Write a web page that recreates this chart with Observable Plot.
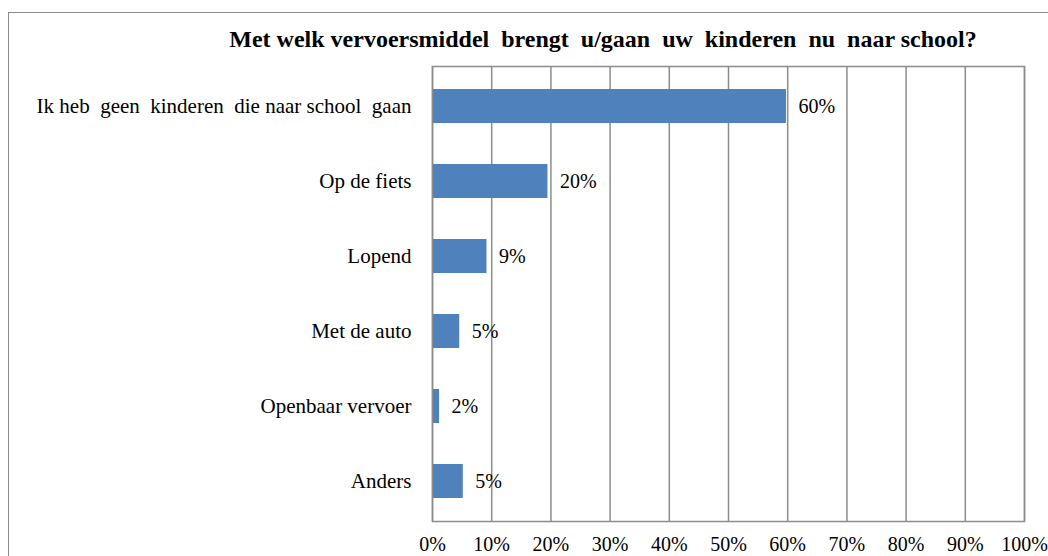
<!DOCTYPE html>
<html>
<head>
<meta charset="utf-8">
<script src="https://cdn.jsdelivr.net/npm/d3@7"></script>
<script src="https://cdn.jsdelivr.net/npm/@observablehq/plot@0.6"></script>
<style>
  html, body { margin: 0; padding: 0; background: #fff; overflow: hidden; }
  #wrap { position: relative; width: 1048px; height: 556px; overflow: hidden; }
  #border { position: absolute; left: 8px; top: 12px; width: 1100px; height: 600px; border: 1.5px solid #8a8a8a; box-sizing: border-box; }
  #title { position: absolute; left: 0; top: 26px; width: 1206px; text-align: center; font-family: "Liberation Serif", serif; font-weight: bold; font-size: 24px; color: #000; white-space: pre; }
  #chart { position: absolute; left: 0; top: 0; }
  #chart svg text { font-family: "Liberation Serif", serif; }
</style>
</head>
<body>
<div id="wrap">
  <div id="border"></div>
  <div id="chart"></div>
  <div id="title">Met welk vervoersmiddel  brengt  u/gaan  uw  kinderen  nu  naar school?</div>
</div>
<script>
const categories = [
  "Ik heb  geen  kinderen  die naar school  gaan",
  "Op de fiets",
  "Lopend",
  "Met de auto",
  "Openbaar vervoer",
  "Anders"
];
const values = [59.8, 19.5, 9.2, 4.6, 1.2, 5.2];
const valueLabels = ["60%", "20%", "9%", "5%", "2%", "5%"];
const xTicks = [0, 10, 20, 30, 40, 50, 60, 70, 80, 90, 100];

const data = categories.map((c, i) => ({cat: c, value: values[i], label: valueLabels[i]}));

const chart = Plot.plot({
  width: 1048,
  height: 556,
  marginLeft: 432,
  marginRight: 24,
  marginTop: 66,
  marginBottom: 35,
  style: {fontFamily: "'Liberation Serif', serif", fontSize: "20px", color: "#000", background: "transparent"},
  x: {domain: [0, 100], ticks: xTicks, tickFormat: d => d + "%", label: null, tickSize: 0, tickPadding: 15},
  y: {domain: categories, label: null, tickSize: 0, tickPadding: 21, paddingInner: 0.55, paddingOuter: 0.275},
  marks: [
    Plot.gridX(xTicks, {stroke: "#8c8c8c", strokeOpacity: 1, strokeWidth: 1.5}),
    Plot.barX(data, {y: "cat", x: "value", fill: "#4f81bd"}),
    Plot.text(data, {y: "cat", x: "value", text: "label", textAnchor: "start", dx: 12, fontSize: 20, fill: "#000", fontFamily: "Liberation Serif"}),
    Plot.axisY({tickSize: 0, tickPadding: 21, fontSize: 21, label: null}),
    Plot.frame({stroke: "#8c8c8c", strokeWidth: 1.5})
  ]
});
document.getElementById("chart").appendChild(chart);
</script>
</body>
</html>
